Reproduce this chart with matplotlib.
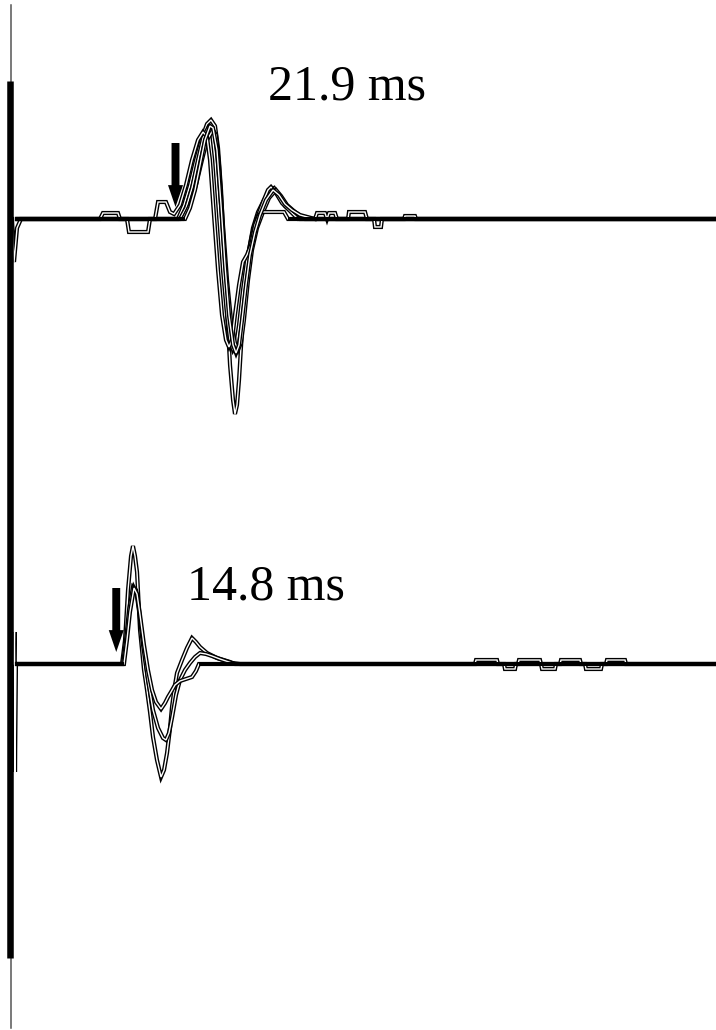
import numpy as np
import matplotlib
matplotlib.use("Agg")
import matplotlib.pyplot as plt
import matplotlib.patheffects as pe

# ---------------- data (time in ms after stimulus, amplitude in mV) ----------------
top_labels = "21.9 ms"
bottom_label = "14.8 ms"
top_latency_ms = 21.8     # arrow position, upper recording
bottom_latency_ms = 13.9  # arrow position, lower recording

# upper recording: five superimposed responses
top1_t = [0.0, 0.27, 0.67, 1.2, 22.13, 22.93, 23.73, 24.53, 25.33, 26.0, 26.53, 27.07, 27.47, 27.87,
          28.27, 28.67, 29.07, 29.47, 29.73, 30.0, 30.27, 30.67, 31.07, 31.6, 32.13, 32.8, 33.6, 34.4,
          34.93, 35.6, 36.4, 37.33, 38.4, 93.87]
top1_v = [0, -0.86, -0.18, 0, 0, 0.28, 0.68, 1.18, 1.62, 1.9, 1.98, 1.86, 1.42, 0.58,
          -0.62, -1.82, -2.92, -3.62, -3.9, -3.72, -3.22, -2.22, -1.32, -0.62, -0.18, 0.14, 0.38, 0.58,
          0.62, 0.44, 0.26, 0.14, 0, 0]

top2_t = [0.67, 22.4, 23.2, 24.0, 24.8, 25.47, 26.13, 26.67, 27.07, 27.6, 28.13, 28.67, 29.07, 29.47,
          29.87, 30.27, 30.8, 31.33, 32.0, 32.67, 33.47, 34.13, 34.53, 35.2, 36.0, 37.07, 38.13, 93.87]
top2_v = [0, 0, 0.22, 0.62, 1.18, 1.62, 1.82, 1.72, 1.18, 0.08, -1.02, -1.92, -2.42, -2.62,
          -2.52, -2.12, -1.42, -0.82, -0.32, 0.02, 0.34, 0.58, 0.64, 0.52, 0.32, 0.16, 0, 0]

top3_t = [0.67, 22.8, 23.73, 24.53, 25.33, 26.0, 26.8, 27.2, 27.6, 28.13, 28.67, 29.2, 29.73, 30.13,
          30.53, 30.93, 31.47, 32.0, 32.67, 33.47, 34.27, 35.2, 35.87, 36.67, 37.73, 39.07, 93.87]
top3_v = [0, 0, 0.28, 0.68, 1.18, 1.58, 1.78, 1.68, 1.08, -0.12, -1.22, -2.02, -2.48, -2.62,
          -2.48, -2.02, -1.22, -0.62, -0.18, 0.14, 0.42, 0.58, 0.46, 0.28, 0.14, 0, 0]

top4_t = [0.67, 11.73, 12.13, 14.13, 14.4, 15.33, 15.6, 18.13, 18.4, 19.07, 19.47, 20.53, 21.07, 21.6,
          22.4, 23.2, 24.0, 24.8, 25.47, 26.0, 26.4, 26.93, 27.47, 28.0, 28.53, 28.93, 29.33, 29.73,
          30.27, 30.8, 31.33, 31.87, 32.4, 32.93, 33.33, 36.27, 36.8, 93.87]
top4_v = [0, 0, 0.12, 0.12, 0, 0, -0.26, -0.26, 0, 0, 0.34, 0.34, 0.14, 0.1,
          0.28, 0.68, 1.18, 1.58, 1.74, 1.64, 1.18, 0.08, -1.02, -1.92, -2.42, -2.56, -2.42, -1.92,
          -1.32, -0.86, -0.72, -0.52, -0.12, 0.08, 0.14, 0.14, 0, 0]

top5_t = [0.8, 23.07, 23.73, 24.4, 25.07, 25.73, 26.4, 26.8, 27.33, 27.87, 28.4, 28.93, 29.47, 29.87,
          30.27, 30.67, 31.2, 31.73, 32.4, 33.07, 33.87, 34.8, 35.6, 36.4, 37.33, 38.4, 40.4, 40.67,
          41.73, 42.0, 42.27, 43.07, 43.33, 44.8, 44.93, 47.07, 47.33, 48.27, 48.4, 49.2, 49.33, 52.27,
          52.4, 53.73, 53.87, 93.87]
top5_v = [0, 0, 0.22, 0.58, 1.08, 1.58, 1.86, 1.82, 1.38, 0.28, -0.92, -1.92, -2.52, -2.68,
          -2.52, -2.02, -1.32, -0.72, -0.26, 0.08, 0.38, 0.58, 0.48, 0.3, 0.18, 0.08, 0, 0.12,
          0.12, 0, 0.12, 0.12, 0, 0, 0.14, 0.14, 0, 0, -0.16, -0.16, 0, 0,
          0.06, 0.06, 0, 0]

# lower recording: three superimposed responses
bot1_t = [0.27, 0.33, 0.4, 0.53, 14.67, 15.07, 15.47, 15.87, 16.13, 16.4, 16.67, 17.07, 17.6, 18.0,
          18.4, 18.8, 19.33, 19.87, 20.27, 20.67, 21.07, 21.33, 21.73, 22.0, 22.67, 23.33, 24.0, 24.53,
          25.07, 26.0, 27.33, 29.07, 29.73, 93.87]
bot1_v = [0, 0.64, -2.16, 0, 0, 0.48, 1.48, 2.16, 2.36, 2.16, 1.84, 0.68, -0.12, -0.52,
          -0.96, -1.46, -1.92, -2.26, -2.12, -1.78, -1.28, -0.86, -0.42, -0.18, 0.08, 0.32, 0.52, 0.44,
          0.34, 0.22, 0.12, 0.04, 0, 0]

bot2_t = [0.67, 14.8, 15.2, 15.6, 16.13, 16.53, 16.93, 17.47, 18.13, 18.8, 19.47, 20.13, 20.53, 20.93,
          21.33, 21.87, 22.4, 23.07, 23.73, 24.4, 25.07, 25.87, 26.67, 27.73, 29.33, 30.4, 93.87]
bot2_v = [0, 0, 0.48, 1.08, 1.54, 1.48, 1.08, 0.38, -0.32, -0.92, -1.28, -1.48, -1.52, -1.38,
          -1.08, -0.62, -0.32, -0.12, 0.02, 0.14, 0.22, 0.2, 0.16, 0.1, 0.02, 0, 0]

bot3_t = [0.67, 14.93, 15.33, 15.73, 16.27, 16.67, 17.07, 17.6, 18.13, 18.67, 19.2, 19.87, 20.4, 20.8,
          21.2, 21.73, 22.4, 23.2, 24.0, 24.53, 24.93, 61.73, 61.87, 64.67, 64.8, 65.6, 65.73, 67.07,
          67.2, 67.47, 67.6, 70.4, 70.53, 70.67, 72.4, 72.53, 73.07, 73.2, 75.73, 75.87, 76.4, 76.53,
          78.53, 78.67, 79.2, 79.33, 81.73, 81.87, 93.87]
bot3_v = [0, 0, 0.48, 1.04, 1.52, 1.4, 0.98, 0.38, -0.12, -0.52, -0.76, -0.9, -0.78, -0.66,
          -0.56, -0.42, -0.34, -0.3, -0.26, -0.14, 0, 0, 0.08, 0.08, 0, 0, -0.1, -0.1,
          0, 0, 0.08, 0.08, 0, -0.1, -0.1, 0, 0, 0.08, 0.08, 0, 0, -0.1,
          -0.1, 0, 0, 0.08, 0.08, 0, 0]

# ---------------- layout ----------------
W, H, DPI = 716, 1030, 100
PX_PER_MS = 7.5
PX_PER_MV = 50.0
STIM_PX = 12
TOP_BASE_PX = 219
BOT_BASE_PX = 664

fig = plt.figure(figsize=(W / DPI, H / DPI), dpi=DPI)
fig.patch.set_facecolor("white")
ax = fig.add_axes([0, 0, 1, 1])
ax.set_xlim(-STIM_PX / PX_PER_MS, (W - STIM_PX) / PX_PER_MS)
y_top = TOP_BASE_PX / PX_PER_MV
ax.set_ylim(y_top - H / PX_PER_MV, y_top)
ax.axis("off")

top_offset = 0.0
bot_offset = -(BOT_BASE_PX - TOP_BASE_PX) / PX_PER_MV

hollow = [pe.Stroke(linewidth=3.0, foreground="black"), pe.Normal()]

groups = [
    (top_offset, [(top1_t, top1_v), (top2_t, top2_v), (top3_t, top3_v), (top4_t, top4_v), (top5_t, top5_v)]),
    (bot_offset, [(bot1_t, bot1_v), (bot2_t, bot2_v), (bot3_t, bot3_v)]),
]
for off, traces in groups:
    for t, v in traces:
        t = np.asarray(t, float)
        v = np.asarray(v, float)
        ax.plot(t, v + off, color="white", lw=1.0, path_effects=hollow,
                solid_joinstyle="miter", zorder=3)
for off, traces in groups:
    for t, v in traces:
        t = np.asarray(t, float)
        v = np.asarray(v, float)
        flat = np.ma.masked_where(v != 0, v + off)
        ax.plot(t, flat, color="black", lw=2.8, solid_capstyle="butt", zorder=4)

# time-zero marker (thin grey line + thick black bar)
x_bar = (10 - STIM_PX) / PX_PER_MS
x_thin = (11 - STIM_PX) / PX_PER_MS
ax.axvline(x_thin, ymin=1 - 1028 / H, ymax=1 - 5 / H, color="#555555", lw=1.1, zorder=5)
ax.axvline(x_bar, ymin=1 - 958 / H, ymax=1 - 81 / H, color="black", lw=4.7,
           solid_capstyle="butt", zorder=6)

# onset arrows
arrow_style = "simple,head_length=1.05,head_width=0.72,tail_width=0.38"
for lat, off in [(top_latency_ms, top_offset), (bottom_latency_ms, bot_offset)]:
    ax.annotate("", xy=(lat, off + 0.24), xytext=(lat, off + 1.52),
                arrowprops=dict(arrowstyle=arrow_style, mutation_scale=15,
                                color="black", lw=0, shrinkA=0, shrinkB=0), zorder=7)

# latency labels
fig.text(347 / W, 1 - 100 / H, top_labels, ha="center", va="baseline",
         fontsize=36, family=["Liberation Serif", "DejaVu Serif"], color="black")
fig.text(266 / W, 1 - 599 / H, bottom_label, ha="center", va="baseline",
         fontsize=36, family=["Liberation Serif", "DejaVu Serif"], color="black")

fig.savefig("out.png", dpi=DPI, facecolor="white")
